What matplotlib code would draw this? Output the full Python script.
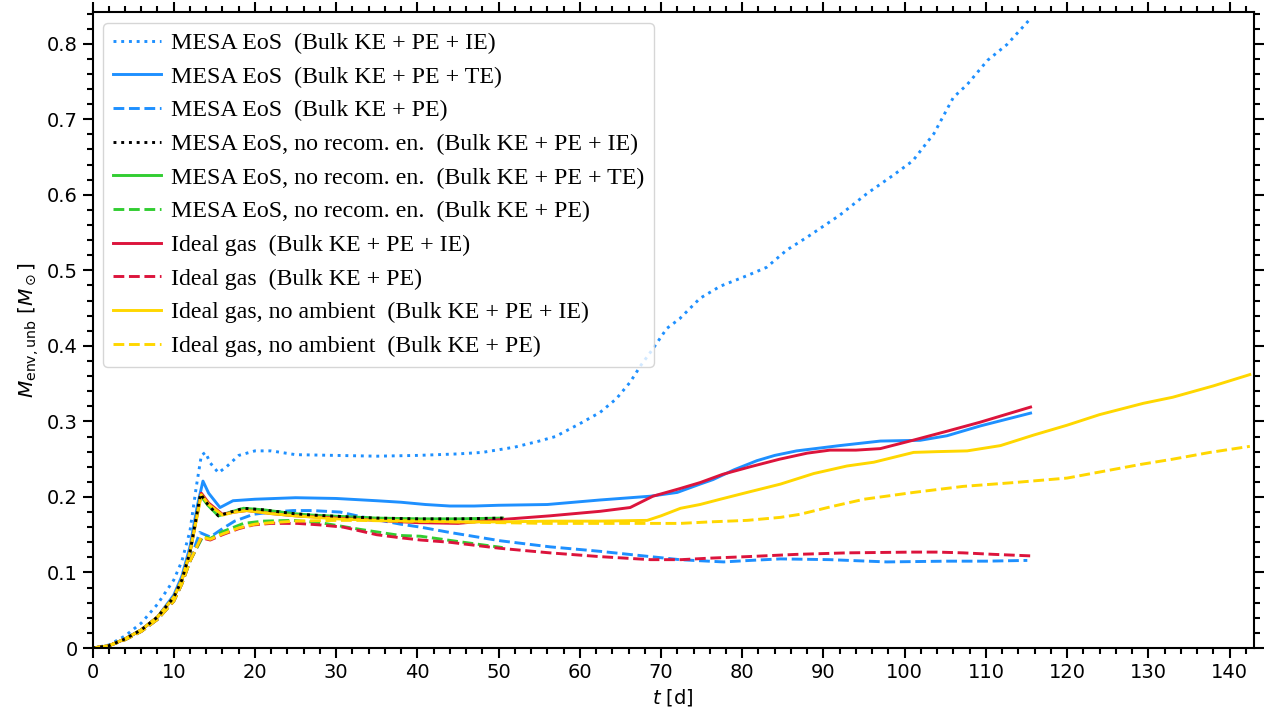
import numpy as np
import matplotlib.pyplot as plt
from matplotlib.ticker import MultipleLocator

# MESA EoS
t_mesa_ie = [0, 2, 4, 6, 8, 10, 11, 12, 12.8, 13.4, 13.9, 14.5, 15.5, 16.5, 18, 20, 22, 25, 30, 35, 40, 45, 48,
             52, 55, 57, 60, 62.5, 64.5, 66.2, 67.5, 69, 70.7, 72.3, 74.8, 77.3, 80.6, 83, 85.5, 88, 92, 95.4,
             98.6, 101, 103.6, 106, 107.7, 110.2, 112.6, 115.3]
m_mesa_ie = [0, 0.004, 0.016, 0.033, 0.058, 0.09, 0.115, 0.155, 0.215, 0.255, 0.259, 0.245, 0.232, 0.24, 0.255,
             0.261, 0.261, 0.256, 0.255, 0.254, 0.255, 0.257, 0.259, 0.266, 0.274, 0.28, 0.297, 0.312, 0.330,
             0.352, 0.374, 0.396, 0.423, 0.436, 0.463, 0.479, 0.493, 0.504, 0.527, 0.544, 0.573, 0.602, 0.626,
             0.645, 0.681, 0.729, 0.746, 0.778, 0.799, 0.831]

t_mesa_te = [0, 2, 4, 6, 8, 10, 11, 12, 12.9, 13.6, 14.3, 15.7, 17.3, 20, 25, 30, 35, 38, 41, 44, 47, 50, 56, 62.5,
             68.7, 72, 74.8, 76.4, 79, 81.8, 84, 86.7, 92, 97, 101.9, 105.2, 109.3, 115.5]
m_mesa_te = [0, 0.003, 0.012, 0.024, 0.041, 0.07, 0.095, 0.134, 0.188, 0.221, 0.205, 0.186, 0.195, 0.197, 0.199,
             0.198, 0.195, 0.193, 0.190, 0.188, 0.188, 0.189, 0.190, 0.196, 0.201, 0.206, 0.217, 0.223, 0.236,
             0.248, 0.255, 0.261, 0.268, 0.274, 0.275, 0.281, 0.294, 0.311]

t_mesa_pe = [0, 2, 4, 6, 8, 10, 11, 12, 13.2, 14.5, 16, 17.5, 19.8, 22, 24.7, 27, 30.5, 33, 35, 37.9, 40.4, 44,
             50.2, 56.3, 62.5, 68.7, 72.3, 74, 77.7, 81, 84.7, 90.8, 97.8, 105.2, 110, 115.1]
m_mesa_pe = [0, 0.003, 0.011, 0.022, 0.038, 0.062, 0.085, 0.115, 0.153, 0.147, 0.158, 0.168, 0.177, 0.180, 0.182,
             0.182, 0.180, 0.174, 0.170, 0.164, 0.160, 0.153, 0.142, 0.134, 0.128, 0.121, 0.117, 0.116, 0.114,
             0.116, 0.118, 0.117, 0.114, 0.115, 0.115, 0.116]

# MESA EoS, no recombination energy
t_norec = [0, 2, 4, 6, 8, 10, 11, 12, 13.3, 14.2, 15.5, 17, 18.6, 21, 24.7, 27, 30.9, 35, 40.4, 45, 50.5]
m_norec_ie = [0, 0.003, 0.012, 0.024, 0.041, 0.067, 0.09, 0.127, 0.204, 0.19, 0.175, 0.18, 0.185, 0.183, 0.178,
              0.176, 0.174, 0.172, 0.171, 0.171, 0.172]
m_norec_te = [0, 0.003, 0.012, 0.024, 0.041, 0.067, 0.09, 0.127, 0.202, 0.189, 0.175, 0.18, 0.185, 0.183, 0.178,
              0.176, 0.174, 0.172, 0.171, 0.171, 0.172]
t_norec_pe = [0, 2, 4, 6, 8, 10, 11, 12, 13.6, 14.5, 16, 18.6, 21, 24.7, 28, 33, 37.9, 40.4, 45, 50.5]
m_norec_pe = [0, 0.003, 0.011, 0.022, 0.038, 0.062, 0.085, 0.115, 0.148, 0.145, 0.154, 0.165, 0.168, 0.169, 0.166,
              0.157, 0.149, 0.148, 0.141, 0.133]

# Ideal gas
t_ideal_ie = [0, 2, 4, 6, 8, 10, 11, 12, 13.4, 14.3, 16, 17.5, 19, 22, 25, 30, 35, 40, 45, 50.2, 56.3, 62.5, 66.2,
              69, 72.3, 74.8, 77.6, 81, 84.6, 88, 90.8, 94, 97, 101, 105.2, 109.3, 115.5]
m_ideal_ie = [0, 0.003, 0.012, 0.024, 0.041, 0.067, 0.09, 0.127, 0.205, 0.192, 0.177, 0.18, 0.182, 0.178, 0.175,
              0.172, 0.169, 0.166, 0.165, 0.170, 0.175, 0.181, 0.186, 0.201, 0.211, 0.219, 0.230, 0.240, 0.250,
              0.258, 0.262, 0.262, 0.264, 0.275, 0.287, 0.299, 0.319]

t_ideal_pe = [0, 2, 4, 6, 8, 10, 11, 12, 13.4, 14.5, 16, 18, 19.8, 22, 25.2, 28, 30.9, 35, 37.9, 40.4, 44, 50.2,
              56.3, 62.5, 68.7, 72.5, 76, 80.6, 86.7, 92.9, 101, 104, 107.2, 111, 115.5]
m_ideal_pe = [0, 0.003, 0.011, 0.022, 0.038, 0.062, 0.085, 0.115, 0.146, 0.143, 0.150, 0.158, 0.163, 0.165, 0.165,
              0.163, 0.160, 0.150, 0.146, 0.143, 0.140, 0.132, 0.126, 0.121, 0.117, 0.117, 0.119, 0.121, 0.124,
              0.126, 0.127, 0.127, 0.126, 0.124, 0.122]

# Ideal gas, no ambient
t_noamb_ie = [0, 2, 4, 6, 8, 10, 11, 12, 13.4, 14.3, 16, 17.5, 19, 22, 25, 30, 35, 40, 45, 50, 56.3, 62.5, 68.3,
              70, 72.4, 74.8, 77.3, 80.6, 84.7, 88.8, 92.9, 96.2, 101.1, 104, 107.7, 111.8, 115.9, 120, 124,
              129.4, 133, 138, 142.5]
m_noamb_ie = [0, 0.003, 0.012, 0.024, 0.041, 0.067, 0.09, 0.127, 0.203, 0.19, 0.176, 0.18, 0.182, 0.178, 0.175,
              0.171, 0.169, 0.168, 0.167, 0.167, 0.168, 0.168, 0.169, 0.175, 0.185, 0.190, 0.197, 0.206, 0.217,
              0.231, 0.241, 0.246, 0.259, 0.260, 0.261, 0.268, 0.282, 0.295, 0.309, 0.324, 0.332, 0.347, 0.362]

t_noamb_pe = [0, 2, 4, 6, 8, 10, 11, 12, 13.4, 14.5, 16, 18, 20, 22, 25, 30, 33, 38, 45, 50, 56, 62, 68, 72.4, 76,
              80.6, 84.7, 87.1, 90.9, 95, 101.1, 107.2, 113.4, 116.7, 120, 124, 129, 133, 137.6, 142.5]
m_noamb_pe = [0, 0.003, 0.011, 0.022, 0.038, 0.062, 0.085, 0.115, 0.147, 0.144, 0.151, 0.159, 0.164, 0.166, 0.168,
              0.169, 0.169, 0.168, 0.167, 0.166, 0.165, 0.165, 0.165, 0.165, 0.167, 0.169, 0.173, 0.177, 0.187,
              0.197, 0.206, 0.214, 0.219, 0.222, 0.225, 0.233, 0.243, 0.250, 0.259, 0.267]

series = [
    (t_mesa_ie, m_mesa_ie, "dodgerblue", ":", "MESA EoS  (Bulk KE + PE + IE)"),
    (t_mesa_te, m_mesa_te, "dodgerblue", "-", "MESA EoS  (Bulk KE + PE + TE)"),
    (t_mesa_pe, m_mesa_pe, "dodgerblue", "--", "MESA EoS  (Bulk KE + PE)"),
    (t_norec, m_norec_ie, "black", ":", "MESA EoS, no recom. en.  (Bulk KE + PE + IE)"),
    (t_norec, m_norec_te, "limegreen", "-", "MESA EoS, no recom. en.  (Bulk KE + PE + TE)"),
    (t_norec_pe, m_norec_pe, "limegreen", "--", "MESA EoS, no recom. en.  (Bulk KE + PE)"),
    (t_ideal_ie, m_ideal_ie, "crimson", "-", "Ideal gas  (Bulk KE + PE + IE)"),
    (t_ideal_pe, m_ideal_pe, "crimson", "--", "Ideal gas  (Bulk KE + PE)"),
    (t_noamb_ie, m_noamb_ie, "gold", "-", "Ideal gas, no ambient  (Bulk KE + PE + IE)"),
    (t_noamb_pe, m_noamb_pe, "gold", "--", "Ideal gas, no ambient  (Bulk KE + PE)"),
]

fig = plt.figure(figsize=(12.69, 7.19), dpi=100)
ax = fig.add_axes([0.0729, 0.0987, 0.9152, 0.8846])

for t, m, c, ls, lab in series:
    z = 3 if c == "black" else 2
    ax.plot(t, m, color=c, ls=ls, lw=2.1, label=lab, zorder=z)

ax.set_xlim(0, 143)
ax.set_ylim(0, 0.842)
ax.xaxis.set_major_locator(MultipleLocator(10))
ax.xaxis.set_minor_locator(MultipleLocator(2))
ax.yaxis.set_major_locator(MultipleLocator(0.1))
ax.yaxis.set_minor_locator(MultipleLocator(0.02))
ax.tick_params(which="both", direction="out", top=True, right=True, width=1.5, labelsize=14)
ax.tick_params(which="major", length=7)
ax.tick_params(which="minor", length=4.3)
for sp in ax.spines.values():
    sp.set_linewidth(1.5)
ax.yaxis.set_major_formatter(plt.FuncFormatter(lambda v, p: "0" if v == 0 else f"{v:.1f}"))

ax.set_xlabel(r"$t$ [d]", fontsize=14)
ax.set_ylabel(r"$M_\mathrm{env,unb}$ [$M_\odot$]", fontsize=14.5)

ax.legend(loc="upper left", prop={"family": "Liberation Serif", "size": 17.2}, handletextpad=0.45,
          borderaxespad=0.45)

fig.savefig("out.png", dpi=100)
